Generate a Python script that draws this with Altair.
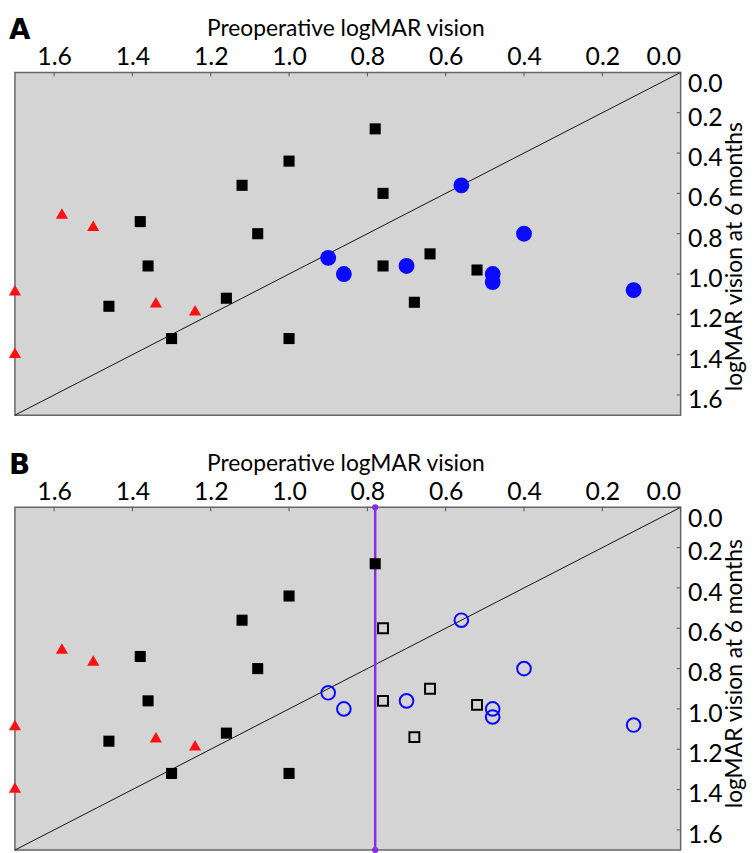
import altair as alt
import pandas as pd

# ---- data ----
tri_x = [1.58, 1.50, 1.70, 1.70, 1.34, 1.24]
tri_y = [0.70, 0.76, 1.08, 1.39, 1.14, 1.18]

sq_fill_x = [1.38, 1.36, 1.46, 1.30, 1.16, 1.12, 1.08, 1.00, 1.00, 0.78]
sq_fill_y = [0.74, 0.96, 1.16, 1.32, 1.12, 0.56, 0.80, 0.44, 1.32, 0.28]

sq_right_x = [0.76, 0.76, 0.64, 0.68, 0.52]
sq_right_y = [0.60, 0.96, 0.90, 1.14, 0.98]

circ_x = [0.90, 0.86, 0.56, 0.40, 0.70, 0.48, 0.48, 0.12]
circ_y = [0.92, 1.00, 0.56, 0.80, 0.96, 1.00, 1.04, 1.08]

cutoff = 0.78
diag = [0.0, 1.7]
x_ticks = [1.6, 1.4, 1.2, 1.0, 0.8, 0.6, 0.4, 0.2, 0.0]
y_ticks = [0.0, 0.2, 0.4, 0.6, 0.8, 1.0, 1.2, 1.4, 1.6]

x_title = "Preoperative logMAR vision"
y_title = "logMAR vision at 6 months"

FONT = "Lato"
W, H = 672, 346
RED = "#ff1010"
BLUE = "#0a0aff"
PURPLE = "#8a2be2"

xs = alt.Scale(domain=[1.7, 0.0], nice=False, zero=False)
ys = alt.Scale(domain=[1.7, 0.0], nice=False, zero=False)


def X(field="x"):
    return alt.X(f"{field}:Q", scale=xs,
                 axis=alt.Axis(orient="top", values=x_ticks, format=".1f",
                               title=None, labelPadding=3))


def Y(field="y"):
    return alt.Y(f"{field}:Q", scale=ys,
                 axis=alt.Axis(orient="right", values=y_ticks, format=".1f",
                               title=None, labelPadding=7,
                               labelOffset=alt.condition("datum.value == 0",
                                                         alt.value(11.5),
                                                         alt.value(4.5))))


def panel(label, ytitle_shift):
    hollow = label == "B"
    layers = []
    dline = alt.Chart(pd.DataFrame({"x": diag, "y": diag})).mark_line(
        color="#111111", strokeWidth=1).encode(x=X(), y=Y())
    layers.append(dline)

    xt = alt.Chart(pd.DataFrame({"x": x_ticks})).mark_rule(
        color="#555555", strokeWidth=1).encode(x=X(), y=alt.value(0), y2=alt.value(4))
    yt = alt.Chart(pd.DataFrame({"y": y_ticks})).mark_rule(
        color="#555555", strokeWidth=1).encode(y=Y(), x=alt.value(W - 4), x2=alt.value(W))
    layers += [xt, yt]

    if hollow:
        vline = alt.Chart(pd.DataFrame({"x": [cutoff]})).mark_rule(
            color=PURPLE, strokeWidth=2.5).encode(x=X(), y=alt.value(0), y2=alt.value(H))
        vdots = alt.Chart(pd.DataFrame({"x": [cutoff, cutoff], "y": diag})).mark_point(
            filled=True, color=PURPLE, size=40, opacity=1).encode(x=X(), y=Y())
        layers += [vline, vdots]

    tri = alt.Chart(pd.DataFrame({"x": tri_x, "y": tri_y})).mark_point(
        shape="triangle-up", filled=True, color=RED, size=150, opacity=1).encode(x=X(), y=Y())
    sqf = alt.Chart(pd.DataFrame({"x": sq_fill_x, "y": sq_fill_y})).mark_point(
        shape="square", filled=True, color="black", size=125, opacity=1).encode(x=X(), y=Y())
    if hollow:
        sqr = alt.Chart(pd.DataFrame({"x": sq_right_x, "y": sq_right_y})).mark_point(
            shape="square", filled=False, color="black", size=100, strokeWidth=2,
            opacity=1).encode(x=X(), y=Y())
        cir = alt.Chart(pd.DataFrame({"x": circ_x, "y": circ_y})).mark_point(
            shape="circle", filled=False, color=BLUE, size=190, strokeWidth=2,
            opacity=1).encode(x=X(), y=Y())
    else:
        sqr = alt.Chart(pd.DataFrame({"x": sq_right_x, "y": sq_right_y})).mark_point(
            shape="square", filled=True, color="black", size=125, opacity=1).encode(x=X(), y=Y())
        cir = alt.Chart(pd.DataFrame({"x": circ_x, "y": circ_y})).mark_point(
            shape="circle", filled=True, color=BLUE, size=256, opacity=1).encode(x=X(), y=Y())
    layers += [tri, sqf, sqr, cir]

    lab = alt.Chart(pd.DataFrame({"t": [label]})).mark_text(
        font="DejaVu Sans", fontSize=28, fontWeight="bold", align="left",
        baseline="alphabetic", color="black").encode(
        x=alt.value(-6), y=alt.value(-34), text="t:N")
    xtt = alt.Chart(pd.DataFrame({"t": [x_title]})).mark_text(
        font=FONT, fontSize=23, align="center", baseline="alphabetic",
        color="black").encode(x=alt.value(W / 2 - 2), y=alt.value(-37), text="t:N")
    ytt = alt.Chart(pd.DataFrame({"t": [y_title]})).mark_text(
        font=FONT, fontSize=23, align="center", baseline="alphabetic", angle=270,
        color="black").encode(x=alt.value(W + 62), y=alt.value(H / 2 + ytitle_shift),
                              text="t:N")
    layers += [lab, xtt, ytt]

    return alt.layer(*layers).properties(width=W, height=H)


chart = alt.vconcat(panel("A", 13), panel("B", -5), spacing=33).properties(
    padding={"top": 4, "left": 0, "right": 0, "bottom": 0}
).configure_view(
    fill="#d4d4d4", stroke="#666666", strokeWidth=1.5
).configure_axis(
    labelFont=FONT, labelFontSize=25, labelColor="black",
    domain=False, ticks=False, grid=False
)

chart.save("out.html", embed_options={"renderer": "svg", "actions": False})
